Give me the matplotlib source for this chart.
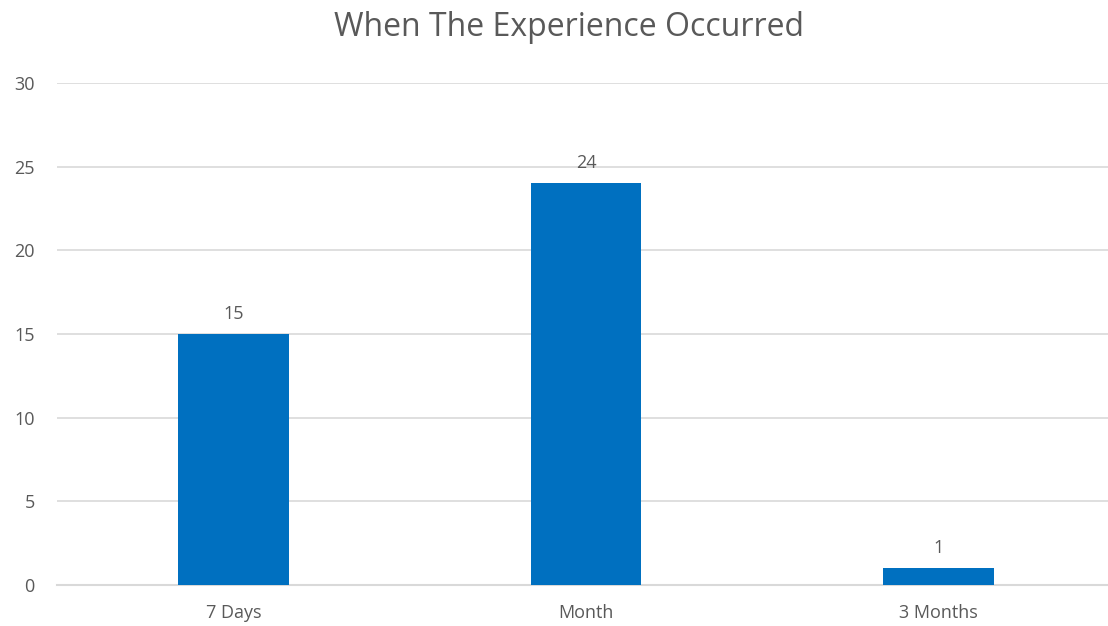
import matplotlib
matplotlib.use('Agg')
import matplotlib.pyplot as plt

categories = ['7 Days', 'Month', '3 Months']
counts = [15, 24, 1]
yticks = [0, 5, 10, 15, 20, 25, 30]

plt.rcParams['font.family'] = ['Open Sans', 'DejaVu Sans']
grey = '#595959'

fig = plt.figure(figsize=(11.08, 6.26), dpi=100)
ax = fig.add_axes([57 / 1108, 1 - 585 / 626, 1058 / 1108, (585 - 83) / 626])

x = range(len(categories))
bars = ax.bar(x, counts, width=0.314, color='#0070C0', zorder=3)
for b, v in zip(bars, counts):
    ax.annotate(str(v), (b.get_x() + b.get_width() / 2, v), xytext=(0, 8),
                textcoords='offset points', ha='center', va='bottom',
                fontsize=13, color=grey)

ax.set_xlim(-0.5, 2.5)
ax.set_ylim(0, 30)
ax.set_yticks(yticks)
ax.set_xticks(list(x))
ax.set_xticklabels(categories)
ax.grid(True, axis='y', color='#D9D9D9', linewidth=1.2, zorder=0)
ax.axhline(0, color='#D9D9D9', linewidth=1.5, zorder=2, clip_on=False)
for s in ax.spines.values():
    s.set_visible(False)
ax.tick_params(length=0, labelsize=13, colors=grey)
ax.tick_params(axis='x', pad=14)
ax.tick_params(axis='y', pad=16)

fig.text(569 / 1108, 1 - 28 / 626, 'When The Experience Occurred', ha='center',
         va='center', fontsize=23, color=grey)

fig.savefig('out.png', dpi=100)
